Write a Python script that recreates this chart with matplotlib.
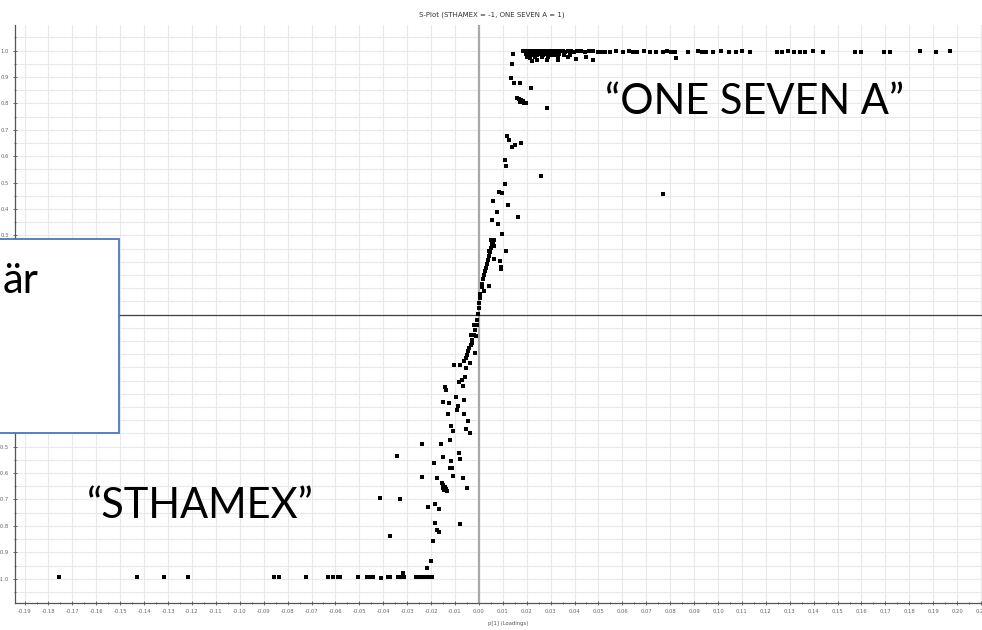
import matplotlib
matplotlib.use("Agg")
import matplotlib.pyplot as plt
from matplotlib.patches import Rectangle
from matplotlib.ticker import MultipleLocator, FuncFormatter

# Loadings p[1] and correlations p(corr)[1]
# STHAMEX end (p(corr) near -1)
low_x = [-0.1756, -0.1428, -0.1318, -0.1215, -0.0857, -0.0836, -0.0724, -0.0633,
         -0.0610, -0.0589, -0.0579, -0.0505, -0.0470, -0.0459, -0.0449, -0.0442,
         -0.0411, -0.0380, -0.0372, -0.0338, -0.0331, -0.0319, -0.0314,
         -0.0262, -0.0257, -0.0252, -0.0247, -0.0242, -0.0237, -0.0232, -0.0227,
         -0.0222, -0.0216, -0.0210, -0.0204, -0.0198]
low_y = [-0.995, -0.995, -0.995, -0.993, -0.995, -0.995, -0.993, -0.995,
         -0.994, -0.995, -0.995, -0.994, -0.995, -0.995, -0.995, -0.995,
         -0.996, -0.995, -0.994, -0.994, -0.992, -0.980, -0.993,
         -0.995, -0.995, -0.994, -0.995, -0.995, -0.994, -0.995, -0.995,
         -0.994, -0.995, -0.995, -0.994, -0.995]

# scattered points on the lower half of the S
mid_lo_x = [-0.0219, -0.0202, -0.0190, -0.0372, -0.0174, -0.0167, -0.0184, -0.0079,
            -0.0212, -0.0184, -0.0166, -0.0414, -0.0330,
            -0.0156, -0.0149, -0.0142, -0.0138, -0.0135, -0.0145, -0.0150,
            -0.0049, -0.0066, -0.0177, -0.0240, -0.0110, -0.0120, -0.0114, -0.0187,
            -0.0118, -0.0149, -0.0077, -0.0082, -0.0344, -0.0240, -0.0160, -0.0121,
            -0.0038, -0.0054, -0.0108, -0.0118, -0.0047, -0.0128, -0.0063, -0.0093,
            -0.0086, -0.0149, -0.0124, -0.0096, -0.0062, -0.0139, -0.0141, -0.0082,
            -0.0072, -0.0066, -0.0059, -0.0054, -0.0038, -0.0062, -0.0077, -0.0103,
            -0.0018, -0.0045, -0.0028, -0.0013, -0.0031, -0.0021]
mid_lo_y = [-0.961, -0.933, -0.858, -0.837, -0.816, -0.822, -0.788, -0.793,
            -0.730, -0.717, -0.737, -0.695, -0.698,
            -0.639, -0.645, -0.651, -0.660, -0.667, -0.663, -0.655,
            -0.655, -0.620, -0.617, -0.614, -0.611, -0.579, -0.582, -0.563,
            -0.554, -0.540, -0.548, -0.525, -0.534, -0.491, -0.490, -0.475,
            -0.449, -0.434, -0.441, -0.422, -0.401, -0.376, -0.376, -0.361,
            -0.346, -0.332, -0.336, -0.311, -0.323, -0.285, -0.275, -0.254,
            -0.247, -0.270, -0.235, -0.203, -0.182, -0.174, -0.191, -0.191,
            -0.144, -0.136, -0.108, -0.081, -0.077, -0.039]

# dense stretch of the S through the origin
curve_x = [-0.0056, -0.0050, -0.0045, -0.0040, -0.0035, -0.0029, -0.0021, -0.0015,
           -0.0010, -0.0006, -0.0003, 0.0000, 0.0002, 0.0004, 0.0006, 0.0011,
           0.0015, 0.0019, 0.0022, 0.0025, 0.0029, 0.0033, 0.0038, 0.0042,
           0.0046, 0.0050, 0.0054, 0.0059, 0.0063]
curve_y = [-0.164, -0.152, -0.137, -0.126, -0.114, -0.095, -0.077, -0.058,
           -0.039, -0.020, 0.003, 0.025, 0.044, 0.063, 0.078, 0.104,
           0.116, 0.135, 0.150, 0.165, 0.177, 0.192, 0.207, 0.222,
           0.237, 0.253, 0.268, 0.279, 0.283]

# scattered points on the upper half of the S
mid_hi_x = [0.0043, 0.0064, 0.0088, 0.0091, 0.0093, 0.0043, 0.0022, 0.0113,
            0.0097, 0.0050, 0.0055, 0.0060, 0.0064, 0.0078, 0.0053, 0.0165,
            0.0074, 0.0120, 0.0060, 0.0085, 0.0097, 0.0109, 0.0258, 0.0113,
            0.0110, 0.0139, 0.0150, 0.0176, 0.0128, 0.0118, 0.0283,
            0.0160, 0.0167, 0.0175, 0.0183, 0.0190, 0.0170, 0.0195,
            0.0219, 0.0146, 0.0171, 0.0136, 0.0139, 0.0144, 0.0770]
mid_hi_y = [0.241, 0.210, 0.203, 0.182, 0.173, 0.109, 0.091, 0.242,
            0.305, 0.283, 0.275, 0.268, 0.260, 0.344, 0.359, 0.371,
            0.388, 0.416, 0.432, 0.464, 0.462, 0.494, 0.525, 0.563,
            0.586, 0.636, 0.643, 0.649, 0.662, 0.677, 0.784,
            0.820, 0.815, 0.812, 0.808, 0.803, 0.806, 0.800,
            0.860, 0.877, 0.877, 0.898, 0.948, 0.987, 0.457]

# ONE SEVEN A end (p(corr) near +1)
high_x = [0.0186, 0.0192, 0.0198, 0.0203, 0.0209, 0.0215, 0.0221, 0.0227, 0.0233,
          0.0240, 0.0246, 0.0252, 0.0259, 0.0265, 0.0272, 0.0279, 0.0286, 0.0293,
          0.0300, 0.0308, 0.0316, 0.0324, 0.0333, 0.0342, 0.0352, 0.0362, 0.0374,
          0.0386, 0.0398, 0.0412, 0.0428, 0.0444, 0.0460, 0.0476,
          0.0195, 0.0205, 0.0218, 0.0230, 0.0243, 0.0256, 0.0270, 0.0285, 0.0301,
          0.0318, 0.0337, 0.0357, 0.0381,
          0.0200, 0.0214, 0.0236, 0.0262, 0.0290, 0.0330, 0.0372, 0.0450,
          0.0221, 0.0241, 0.0286, 0.0330, 0.0406, 0.0478,
          0.0500, 0.0515, 0.0528, 0.0548, 0.0572, 0.0604, 0.0628, 0.0644, 0.0660,
          0.0692, 0.0716, 0.0740, 0.0772, 0.0788, 0.0804, 0.0820, 0.0824, 0.0876,
          0.0916, 0.0932, 0.0949, 0.0980, 0.1013, 0.1045, 0.1077, 0.1101, 0.1133,
          0.1245, 0.1269, 0.1293, 0.1317, 0.1341, 0.1365, 0.1397, 0.1437, 0.1574,
          0.1597, 0.1694, 0.1718, 0.1846, 0.1910, 0.1971]
high_y = [0.997, 0.999, 0.998, 0.999, 0.997, 0.999, 0.998, 0.999, 0.997,
          0.999, 0.998, 0.997, 0.999, 0.998, 0.997, 0.999, 0.998, 0.997,
          0.999, 0.998, 0.997, 0.998, 0.999, 0.997, 0.998, 0.996, 0.998,
          0.997, 0.996, 0.998, 0.997, 0.996, 0.998, 0.997,
          0.986, 0.984, 0.987, 0.985, 0.983, 0.986, 0.984, 0.987, 0.985,
          0.984, 0.986, 0.983, 0.985,
          0.975, 0.973, 0.976, 0.974, 0.975, 0.973, 0.976, 0.974,
          0.962, 0.965, 0.966, 0.963, 0.968, 0.965,
          0.995, 0.996, 0.996, 0.993, 0.997, 0.995, 0.997, 0.996, 0.994,
          0.997, 0.996, 0.993, 0.995, 0.997, 0.996, 0.994, 0.971, 0.996,
          0.997, 0.995, 0.996, 0.994, 0.997, 0.995, 0.996, 0.997, 0.994,
          0.996, 0.995, 0.997, 0.996, 0.994, 0.996, 0.997, 0.995, 0.996,
          0.995, 0.996, 0.996, 0.997, 0.996, 0.997]

TITLE = "S-Plot (STHAMEX = -1, ONE SEVEN A = 1)"
XLABEL = "p[1] (Loadings)"
LEFT_GROUP = "\u201cSTHAMEX\u201d"
RIGHT_GROUP = "\u201cONE SEVEN A\u201d"
BOX_TEXT = "är"

W, H = 982, 630
fig = plt.figure(figsize=(W / 100, H / 100), dpi=100)
ax = fig.add_axes([15 / W, 27 / H, 978 / W, 578 / H])

xs = low_x + mid_lo_x + curve_x + mid_hi_x + high_x
ys = low_y + mid_lo_y + curve_y + mid_hi_y + high_y
ax.scatter(xs, ys, marker="s", s=6, color="black", linewidths=0, zorder=3)

ax.set_xlim(-0.194, 0.215)
ax.set_ylim(-1.092, 1.097)

ax.axvline(0, color="#a8a8a8", lw=1.6, zorder=2)
ax.axhline(0, color="#404040", lw=0.9, zorder=2)

ax.xaxis.set_major_locator(MultipleLocator(0.01))
ax.xaxis.set_minor_locator(MultipleLocator(0.005))
ax.yaxis.set_major_locator(MultipleLocator(0.1))
ax.yaxis.set_minor_locator(MultipleLocator(0.05))
ax.xaxis.set_major_formatter(FuncFormatter(lambda v, p: f"{round(v, 2) + 0.0:.2f}"))


def y_label(v, p):
    # labels behind the callout box are left blank
    if -0.45 < v < 0.25:
        return ""
    return f"{round(v, 1) + 0.0:.1f}"


ax.yaxis.set_major_formatter(FuncFormatter(y_label))

ax.grid(True, which="major", axis="x", color="#e9e9e9", lw=0.8)
ax.grid(True, which="both", axis="y", color="#e9e9e9", lw=0.8)
ax.set_axisbelow(True)

for side in ["top", "right"]:
    ax.spines[side].set_visible(False)
for side in ["left", "bottom"]:
    ax.spines[side].set_color("#555555")
    ax.spines[side].set_linewidth(0.9)

ax.tick_params(which="both", direction="inout", colors="#555555", width=0.6)
ax.tick_params(which="major", length=3, pad=3, labelsize=3.8, labelcolor="#666666")
ax.tick_params(which="minor", length=2)
for lab in ax.get_xticklabels() + ax.get_yticklabels():
    lab.set_fontfamily("Liberation Sans Narrow")

fig.text(492 / W, 1 - 15 / H, TITLE, ha="center", va="center",
         fontsize=5, color="#333333", family="Liberation Sans Narrow")
fig.text(488 / W, 1 - 623 / H, XLABEL, ha="left", va="center",
         fontsize=3.8, color="#555555", family="Liberation Sans Narrow")

# group names
fig.text(200 / W, 1 - 506 / H, LEFT_GROUP, ha="center", va="center",
         fontsize=30, color="black", family="Lato")
fig.text(755 / W, 1 - 102 / H, RIGHT_GROUP, ha="center", va="center",
         fontsize=30, color="black", family="Lato")

# callout box on the left
box = Rectangle((-10 / W, 1 - 433 / H), 129 / W, 194 / H, transform=fig.transFigure,
                facecolor="white", edgecolor="#4a76c4", lw=1.3, zorder=10)
fig.add_artist(box)
fig.text(38 / W, 1 - 293 / H, BOX_TEXT, ha="right", va="baseline",
         fontsize=30, color="black", family="Lato", zorder=11)

fig.savefig("out.png", dpi=100)
